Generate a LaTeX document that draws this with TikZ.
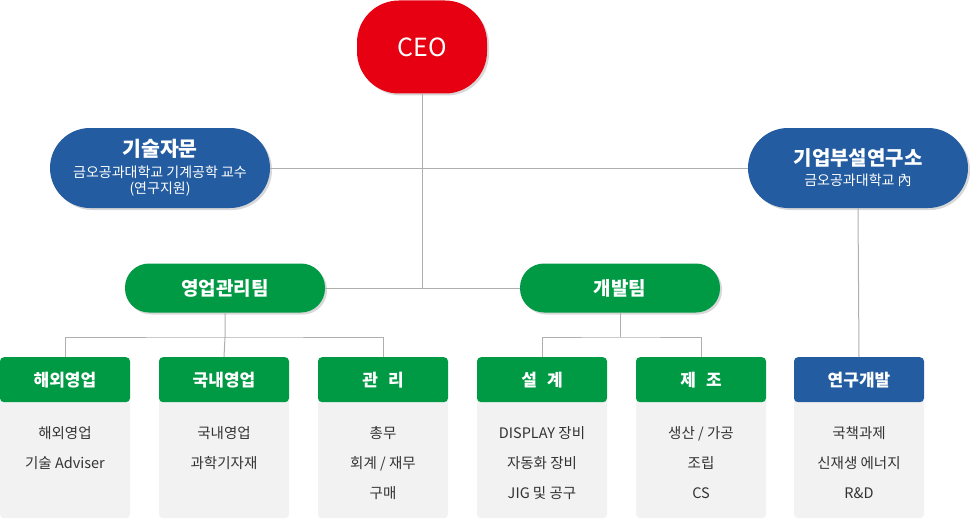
\documentclass[tikz,border=0pt]{standalone}
\usepackage{fontspec}
\setmainfont{Noto Sans CJK KR}
\usetikzlibrary{positioning,shadows}
\definecolor{ceored}{RGB}{230,0,18}
\definecolor{orgblue}{RGB}{35,92,160}
\definecolor{orggreen}{RGB}{0,154,68}
\definecolor{linegray}{RGB}{175,175,175}
\definecolor{bodygray}{RGB}{242,242,242}
\definecolor{itemtext}{RGB}{51,51,51}

\begin{document}
\begin{tikzpicture}[x=1pt,y=-1pt,
 pill/.style={rounded corners=#1, inner sep=0pt, text=white, align=center,
   drop shadow={shadow xshift=2pt,shadow yshift=-2pt,fill=black!30}},
 link/.style={draw=linegray, line width=1pt},
 head/.style={fill=#1, rounded corners=4pt, inner sep=0pt, minimum width=130pt,
   minimum height=45pt, anchor=north, text=white, font=\fontsize{17}{20}\selectfont\bfseries},
 body/.style={fill=bodygray, rounded corners=4pt, inner sep=0pt, minimum width=130pt,
   minimum height=121pt, anchor=north},
 item/.style={anchor=north, inner sep=0pt, align=center, text=itemtext,
   font=\fontsize{14.5}{30}\selectfont}]
\useasboundingbox (0,0) rectangle (970,519);

\node[pill=42pt, fill=ceored, minimum width=130pt, minimum height=93pt,
  font=\fontsize{25}{28}\selectfont] (ceo) at (422,47) {CEO};
\node[pill=40pt, fill=orgblue, minimum width=220pt, minimum height=80pt,
  font=\fontsize{14}{16}\selectfont] (advice) at (160,168)
  {{\fontsize{20.5}{22}\selectfont\bfseries 기술자문}\\[5pt]
   금오공과대학교 기계공학 교수\\(연구지원)};
\node[pill=40pt, fill=orgblue, minimum width=220pt, minimum height=80pt,
  font=\fontsize{14}{16}\selectfont] (lab) at (858,168)
  {{\fontsize{20}{22}\selectfont\bfseries 기업부설연구소}\\[4pt]
   금오공과대학교 內};
\node[pill=24pt, fill=orggreen, minimum width=200pt, minimum height=49pt,
  font=\fontsize{19}{21}\selectfont\bfseries] (sales) at (225,288) {영업관리팀};
\node[pill=24pt, fill=orggreen, minimum width=200pt, minimum height=49pt,
  font=\fontsize{19}{21}\selectfont\bfseries] (dev) at (620,288) {개발팀};

\node[body] (ovsb) at (65,397) {};
\node[body] (domb) at (224,397) {};
\node[body] (mgmtb) at (383,397) {};
\node[body] (desb) at (542,397) {};
\node[body] (mfgb) at (701,397) {};
\node[body] (rndb) at (859,397) {};

\node[head=orggreen] (ovs) at (65,357) {해외영업};
\node[head=orggreen] (dom) at (224,357) {국내영업};
\node[head=orggreen] (mgmt) at (383,357) {관\hspace{0.6em}리};
\node[head=orggreen] (des) at (542,357) {설\hspace{0.6em}계};
\node[head=orggreen] (mfg) at (701,357) {제\hspace{0.6em}조};
\node[head=orgblue] (rnd) at (859,357) {연구개발};

\node[item] (ovst) at (65,426) {해외영업\\기술 Adviser};
\node[item] (domt) at (224,426) {국내영업\\과학기자재};
\node[item] (mgmtt) at (383,426) {총무\\회계 / 재무\\구매};
\node[item] (dest) at (542,426) {DISPLAY 장비\\자동화 장비\\JIG 및 공구};
\node[item] (mfgt) at (701,426) {생산 / 가공\\조립\\CS};
\node[item] (rndt) at (859,426) {국책과제\\신재생 에너지\\R\&D};

\coordinate (sbus) at (sales.south |- 0,337);
\coordinate (dbus) at (dev.south |- 0,337);

\draw[link] (advice.east) -- (lab.west);
\draw[link] (sales.east) -- (dev.west);
\draw[link] (ceo.south) -- (ceo.south |- sales.east);
\draw[link] (lab.south) -- (rnd.north);
\draw[link] (sales.south) -- (sbus) -- (dom.north);
\draw[link] (ovs.north) |- (sbus) -| (mgmt.north);
\draw[link] (dev.south) -- (dbus);
\draw[link] (des.north) |- (dbus) -| (mfg.north);
\end{tikzpicture}
\end{document}
